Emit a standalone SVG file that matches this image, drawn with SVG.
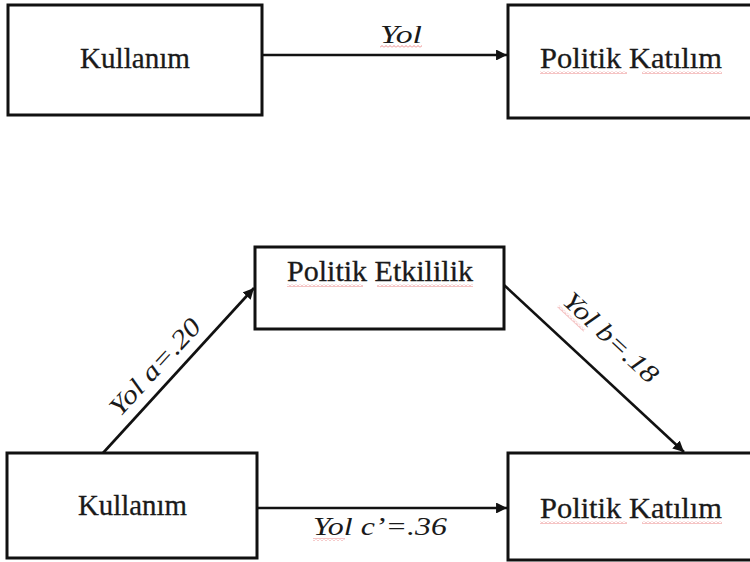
<svg xmlns="http://www.w3.org/2000/svg" width="750" height="562" viewBox="0 0 750 562">
  <defs>
    <marker id="arrow" viewBox="0 0 10 10" refX="10" refY="5" markerWidth="4.2" markerHeight="4.2" orient="auto" markerUnits="strokeWidth">
      <path d="M0,0 L10,5 L0,10 z" fill="#111"/>
    </marker>
    <pattern id="wavy" x="0" y="0" width="4" height="3" patternUnits="userSpaceOnUse">
      <path d="M0,2.5 L2,0.5 L4,2.5" fill="none" stroke="#e05050" stroke-width="0.9"/>
    </pattern>
    <style>
      .box { fill: #fff; stroke: #111; stroke-width: 3; }
      .lbl { font-family: "Liberation Serif", "DejaVu Serif", serif; font-size: 29px; fill: #1a1a1a; stroke: #1a1a1a; stroke-width: 0.3; }
      .edge { font-family: "Liberation Serif", "DejaVu Serif", serif; font-size: 26px; font-style: italic; fill: #1a1a1a; }
      .conn { stroke: #111; stroke-width: 2.6; fill: none; marker-end: url(#arrow); }
      .sq { fill: url(#wavy); opacity: 0.75; }
    </style>
  </defs>
  <rect width="750" height="562" fill="#fff"/>

  <g id="connectors">
    <line class="conn" x1="262" y1="55" x2="507" y2="55"/>
    <line class="conn" x1="103" y1="453" x2="254" y2="288"/>
    <line class="conn" x1="504" y1="285" x2="684" y2="452"/>
    <line class="conn" x1="257" y1="508" x2="507" y2="508"/>
    <text class="edge" x="401" y="43" text-anchor="middle" textLength="42" lengthAdjust="spacingAndGlyphs">Yol</text>
    <rect class="sq" x="380" y="45" width="42" height="3"/>
    <g transform="translate(165,376) rotate(-47.5)">
      <text class="edge" x="0" y="-5" text-anchor="middle" textLength="122" lengthAdjust="spacingAndGlyphs">Yol a=.20</text>
    </g>
    <g transform="translate(588,362) rotate(43)">
      <text class="edge" x="0" y="-25" text-anchor="middle" textLength="120" lengthAdjust="spacingAndGlyphs">Yol b=.18</text>
      <rect class="sq" x="-60" y="-22" width="36" height="3"/>
    </g>
    <text class="edge" x="313" y="535" textLength="134" lengthAdjust="spacingAndGlyphs">Yol c’=.36</text>
    <rect class="sq" x="313" y="538" width="32" height="3" opacity="0.35"/>
  </g>

  <g id="n-kullanim-top">
    <rect class="box" x="8" y="5" width="254" height="110"/>
    <text class="lbl" x="80" y="68" textLength="110" lengthAdjust="spacingAndGlyphs">Kullanım</text>
  </g>

  <g id="n-katilim-top">
    <rect class="box" x="508" y="5" width="260" height="113"/>
    <text class="lbl" x="540" y="68" textLength="182" lengthAdjust="spacingAndGlyphs">Politik  Katılım</text>
    <rect class="sq" x="540" y="71" width="87" height="3"/>
    <rect class="sq" x="642" y="71" width="80" height="3"/>
  </g>

  <g id="n-etkililik">
    <rect class="box" x="255" y="247" width="249" height="82"/>
    <text class="lbl" x="287" y="281" textLength="186" lengthAdjust="spacingAndGlyphs">Politik  Etkililik</text>
    <rect class="sq" x="287" y="284" width="76" height="3"/>
    <rect class="sq" x="377" y="284" width="96" height="3"/>
  </g>

  <g id="n-kullanim-bottom">
    <rect class="box" x="7" y="453" width="250" height="105"/>
    <text class="lbl" x="78" y="515" textLength="109" lengthAdjust="spacingAndGlyphs">Kullanım</text>
  </g>

  <g id="n-katilim-bottom">
    <rect class="box" x="508" y="453" width="260" height="107"/>
    <text class="lbl" x="540" y="518" textLength="182" lengthAdjust="spacingAndGlyphs">Politik  Katılım</text>
    <rect class="sq" x="540" y="521" width="87" height="3"/>
    <rect class="sq" x="642" y="521" width="80" height="3"/>
  </g>
</svg>
